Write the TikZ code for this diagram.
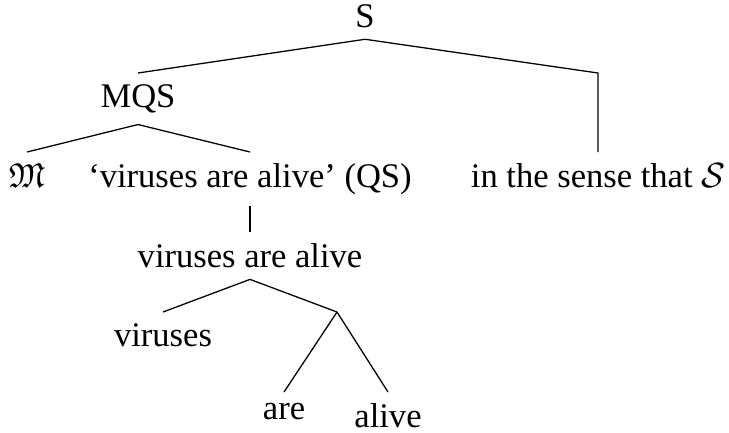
\documentclass[tikz,border=0pt]{standalone}
\usepackage{amssymb}
\usepackage{fontspec}
\setmainfont{Liberation Serif}
\tikzset{
  tree style/.style={
    x=0.3125pt, y=-0.3125pt,
    font=\fontsize{10.8pt}{13pt}\selectfont,
  },
  tree node/.style={
    anchor=north, inner sep=3.4pt
  },
  tree edge/.style={
    draw, line width=0.4pt,
  },
}

\begin{document}
\begin{tikzpicture}[tree style]
  \useasboundingbox (0,0) rectangle (729,432);
  \node[tree node] (s) at (365,-7) {S};
  \node[tree node] (mqs) at (138,73) {MQS};
  \node[tree node] (frak) at (27,152) {$\mathfrak{M}$};
  \node[tree node] (qs) at (250,152) {‘viruses are alive’ (QS)};
  \node[tree node] (sense) at (598,152) {in the sense that $\mathcal{S}$};
  \coordinate (sensetop) at (sense.north |- mqs.north);
  \node[tree node] (vaa) at (250,232) {viruses are alive};
  \node[tree node] (vir) at (163,312) {viruses};
  \coordinate (va) at (337,312);
  \node[tree node] (are) at (284,392) {are};
  \node[tree node] (alive) at (388,392) {alive};
  % branches
  \draw[tree edge] (s.south) -- (mqs.north);
  \draw[tree edge] (s.south) -- (sensetop) -- (sense.north);
  \draw[tree edge] (mqs.south) -- (frak.north);
  \draw[tree edge] (mqs.south) -- (qs.north);
  \draw[tree edge] (qs.south) -- (vaa.north);
  \draw[tree edge] (vaa.south) -- (vir.north);
  \draw[tree edge] (vaa.south) -- (va);
  \draw[tree edge] (va) -- (are.north);
  \draw[tree edge] (va) -- (alive.north);
\end{tikzpicture}
\end{document}
